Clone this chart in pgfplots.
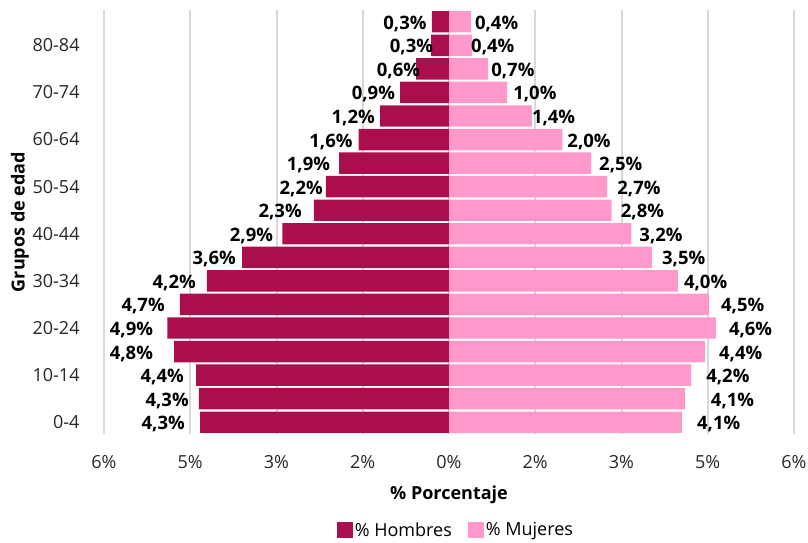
\documentclass[border=0pt]{standalone}
\usepackage{pgfplots}
\usepackage{pgfplotstable}
\pgfplotsset{compat=1.18}
\usepackage{fontspec}
\setmainfont{Open Sans}
\definecolor{hom}{RGB}{171,14,76}
\definecolor{muj}{RGB}{255,153,204}
\definecolor{gridc}{RGB}{217,217,217}
% y: category index (0 = 0-4 ... 17 = 85+)
% h, m: bar lengths (%); hl, ml: shown labels; ho, mo: label gaps (pt)
\pgfplotstableread{
y h hl ho m ml mo
0 4.33 4.3 15 4.05 4.1 15
1 4.35 4.3 10 4.10 4.1 26
2 4.40 4.4 12 4.21 4.2 15
3 4.78 4.8 21 4.45 4.4 14
4 4.90 4.9 14 4.64 4.6 13
5 4.68 4.7 15 4.52 4.5 12
6 4.21 4.2 11 3.98 4.0 6
7 3.60 3.6 6 3.53 3.5 10
8 2.90 2.9 9 3.17 3.2 8
9 2.35 2.3 12 2.83 2.8 9
10 2.14 2.2 3 2.75 2.7 10
11 1.91 1.9 9 2.47 2.5 8
12 1.57 1.6 6 1.97 2.0 5
13 1.20 1.2 5 1.44 1.4 0
14 0.85 0.9 5 1.01 1.0 6
15 0.57 0.6 -4 0.68 0.7 3
16 0.31 0.3 -2 0.40 0.4 -1
17 0.30 0.3 5 0.38 0.4 4
}\datatable
\begin{document}
\begin{tikzpicture}
\useasboundingbox (-104pt,-109pt) rectangle (704pt,434pt);
\begin{axis}[
  at={(0pt,0pt)}, anchor=south west,
  scale only axis,
  width=690pt, height=424pt,
  xbar, bar shift=0pt, bar width=0.91,
  xmin=-6, xmax=6, ymin=-0.5, ymax=17.5,
  xtick={-6,-4.5,-3,-1.5,0,1.5,3,4.5,6},
  xticklabels={6\%,5\%,3\%,2\%,0\%,2\%,3\%,5\%,6\%},
  ytick={0,2,4,6,8,10,12,14,16},
  yticklabels={0-4,10-14,20-24,30-34,40-44,50-54,60-64,70-74,80-84},
  xmajorgrids, grid style={gridc, line width=2pt},
  axis line style={draw=none},
  tick style={draw=none},
  ticklabel style={font=\fontsize{18}{20}\selectfont, text=black!85},
  xticklabel style={anchor=center, yshift=-28pt},
  yticklabel style={anchor=east, xshift=-20pt, inner sep=0pt},
  xlabel={\bfseries \% Porcentaje},
  ylabel={\bfseries Grupos de edad},
  label style={font=\fontsize{18}{20}\selectfont},
  xlabel style={at={(axis description cs:0.5,0)}, anchor=center, yshift=-61pt},
  ylabel style={at={(axis description cs:0,0.5)}, anchor=center, yshift=84pt},
  legend style={at={(0.51,-0.2264)}, anchor=center, legend columns=2, draw=none,
    font=\fontsize{18}{20}\selectfont, /tikz/every even column/.append style={column sep=14pt}},
  legend image code/.code={\fill[#1] (0pt,-8pt) rectangle (16pt,8pt);},
  point meta=explicit,
  nodes near coords={\pgfmathprintnumber[fixed,fixed zerofill,precision=1,use comma]{\pgfplotspointmeta}\%},
  nodes near coords style={font=\bfseries\fontsize{18.5}{20}\selectfont, text=black, inner sep=0pt, yshift=-2pt},
  /pgf/number format/assume math mode=true,
]
\addplot[fill=hom, draw=none,
  visualization depends on={\thisrow{ho} \as \hoff},
  every node near coord/.append style={anchor=east, xshift=-\hoff pt}]
  table[x expr=-\thisrow{h}, y=y, meta=hl] {\datatable};
\addlegendentry{\% Hombres}
\addplot[fill=muj, draw=none,
  visualization depends on={\thisrow{mo} \as \moff},
  every node near coord/.append style={anchor=west, xshift=\moff pt}]
  table[x=m, y=y, meta=ml] {\datatable};
\addlegendentry{\% Mujeres}
\end{axis}
\end{tikzpicture}
\end{document}
